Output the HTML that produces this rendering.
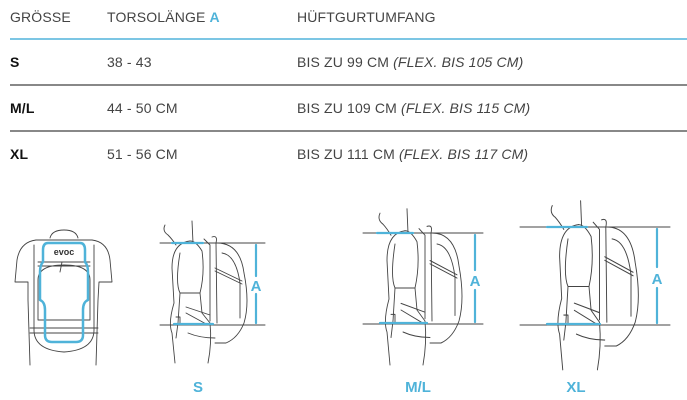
<!DOCTYPE html>
<html><head><meta charset="utf-8"><style>
body{margin:0;width:687px;height:400px;background:#fff;overflow:hidden;position:relative;font-family:"Liberation Sans",sans-serif;color:#444;}
.t{position:absolute;font-size:14px;letter-spacing:0.15px;white-space:nowrap;line-height:16px}
.b{font-weight:bold;color:#111}
i{font-style:italic}
.hl{position:absolute;left:10px;width:677px;height:1px}
</style></head><body>
<div class="t" style="left:10px;top:9px">GRÖSSE</div>
<div class="t" style="left:107px;top:9px">TORSOLÄNGE <b style="color:#4fb3d9">A</b></div>
<div class="t" style="left:297px;top:9px">HÜFTGURTUMFANG</div>
<div class="hl" style="top:38px;background:#7cc6e4;height:2px"></div>
<div class="t b" style="left:10px;top:54px">S</div>
<div class="t" style="left:107px;top:54px">38 - 43</div>
<div class="t" style="left:297px;top:54px">BIS ZU 99 CM <i>(FLEX. BIS 105 CM)</i></div>
<div class="hl" style="top:84px;background:#888;height:2px"></div>
<div class="t b" style="left:10px;top:100px">M/L</div>
<div class="t" style="left:107px;top:100px">44 - 50 CM</div>
<div class="t" style="left:297px;top:100px">BIS ZU 109 CM <i>(FLEX. BIS 115 CM)</i></div>
<div class="hl" style="top:130px;background:#888;height:2px"></div>
<div class="t b" style="left:10px;top:146px">XL</div>
<div class="t" style="left:107px;top:146px">51 - 56 CM</div>
<div class="t" style="left:297px;top:146px">BIS ZU 111 CM <i>(FLEX. BIS 117 CM)</i></div>

<svg width="687" height="400" style="position:absolute;left:0;top:0" fill="none" stroke-linecap="round" stroke-linejoin="round">
<defs>
<g id="side" stroke="#444" stroke-width="0.9">
 <path d="M5,-18 Q2,-12 8,-8 Q12,-4 16,2"/>
 <path d="M32,-22 L33,0"/>
 <path d="M30,-2 Q12,0 12,25 L14,60 Q8,80 12,90 L15,120"/>
 <path d="M20,10 Q15,40 20,50 L40,50 Q45,30 42,8 Q36,-2 30,-2"/>
 <path d="M20,50 L18,80 L16,95"/>
 <path d="M40,50 L42,70 L50,80 Q52,100 48,120"/>
 <path d="M44,-4 L50,2 L50,78"/>
 <path d="M52,-6 Q58,-8 56,0 L57,80"/>
 <path d="M57,0 Q80,0 84,30 Q90,60 84,80 Q78,95 66,100 L55,100"/>
 <path d="M62,10 Q76,12 80,40 L80,75"/>
 <path d="M55,25 L82,38"/>
 <path d="M55,28 L82,41"/>
 <path d="M26,64 L50,72 M26,70 L48,82 M28,90 Q40,95 55,95"/>
 <path d="M16,74 L20,74 L20,82 L15,82"/>
</g>
</defs>
<g stroke="#444" stroke-width="0.9">
 <path d="M50,238 Q52,230 64,230 Q76,230 78,238"/>
 <path d="M36,240 Q20,242 17,260 L15,282 L28,282 L28,300 L30,365"/>
 <path d="M92,240 Q108,242 110,260 L112,282 L99,282 L98,300 L96,365"/>
 <path d="M36,240 L92,240 M34,245 L34,330 M94,245 L94,330"/>
 <path d="M38,262 L90,262 M38,266 L90,266 M30,328 L98,328 M30,333 L98,333"/>
 <path d="M34,330 Q34,350 64,352 Q94,350 94,330"/>
 <path d="M38,280 L38,320 L90,320 L90,280 Q90,265 64,265 Q38,265 38,280"/>
 <path d="M62,262 L60,272"/>
</g>
<text x="64" y="255" font-size="9" font-weight="bold" fill="#333" text-anchor="middle" font-family="Liberation Sans">evoc</text>
<path d="M48,243 L80,243 Q85,243 85,250 L85,262 Q88,265 88,272 L88,300 Q83,302 83,310 L83,335 Q83,342 76,342 L52,342 Q45,342 45,335 L45,310 Q45,302 40,300 L40,272 Q40,265 43,262 L43,250 Q43,243 48,243 Z" stroke="#4fb3d9" stroke-width="2.5"/>

<use href="#side" transform="translate(160,243)"/>
<g stroke="#444" stroke-width="1"><line x1="160" y1="243" x2="265" y2="243"/><line x1="160" y1="325" x2="265" y2="325"/></g>
<g stroke="#4fb3d9" stroke-width="2.2"><line x1="172" y1="243" x2="203" y2="243"/><line x1="174" y1="324" x2="213" y2="324"/><line x1="256" y1="245" x2="256" y2="276"/><line x1="256" y1="294" x2="256" y2="323"/></g>
<use href="#side" transform="translate(375,233) scale(1,1.1)"/>
<g stroke="#444" stroke-width="1"><line x1="363" y1="233" x2="483" y2="233"/><line x1="363" y1="324" x2="483" y2="324"/></g>
<g stroke="#4fb3d9" stroke-width="2.2"><line x1="377" y1="233" x2="413" y2="233"/><line x1="380" y1="323" x2="427" y2="323"/><line x1="475" y1="235" x2="475" y2="270"/><line x1="475" y1="290" x2="475" y2="322"/></g>
<use href="#side" transform="translate(547,227) scale(1.05,1.19)"/>
<g stroke="#444" stroke-width="1"><line x1="520" y1="227" x2="670" y2="227"/><line x1="520" y1="325" x2="670" y2="325"/></g>
<g stroke="#4fb3d9" stroke-width="2.2"><line x1="547" y1="227" x2="587" y2="227"/><line x1="547" y1="324" x2="600" y2="324"/><line x1="657" y1="229" x2="657" y2="267"/><line x1="657" y1="288" x2="657" y2="323"/></g>
<g fill="#4fb3d9" font-family="Liberation Sans" font-weight="bold" font-size="15" text-anchor="middle">
<text x="256" y="291">A</text><text x="475" y="286">A</text><text x="657" y="284">A</text>
<text x="198" y="392">S</text><text x="418" y="392">M/L</text><text x="576" y="392">XL</text>
</g>
</svg>
</body></html>
